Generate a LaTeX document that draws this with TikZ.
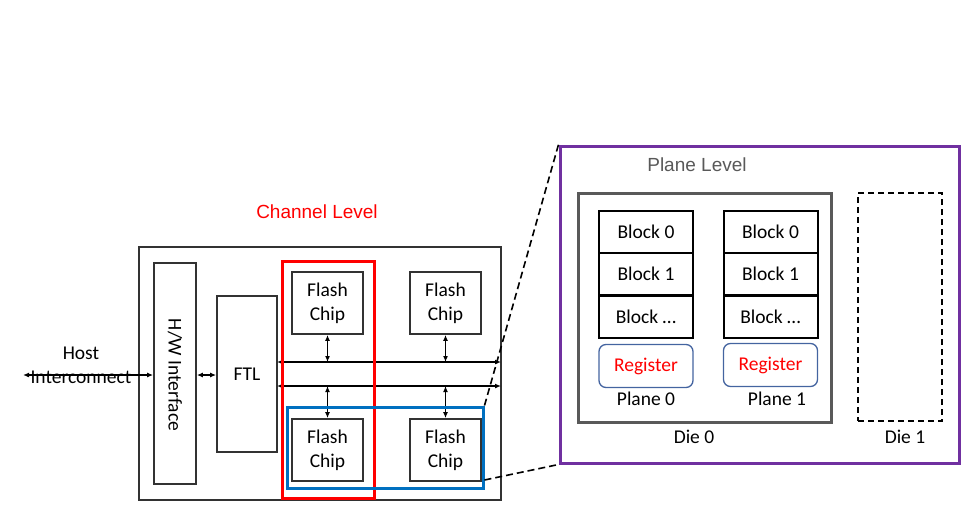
\documentclass[tikz,border=0pt]{standalone}
\usepackage{fontspec}
\setmainfont{Carlito}
\newfontfamily\arialf{Liberation Sans}
\usetikzlibrary{arrows.meta}
\definecolor{dgray}{RGB}{50,50,50}
\definecolor{plgray}{RGB}{89,89,89}
\definecolor{purp}{RGB}{112,48,160}
\definecolor{chblue}{RGB}{0,112,192}
\definecolor{regblue}{RGB}{68,100,160}
\begin{document}
\begin{tikzpicture}[x=1pt,y=-1pt,
  blk/.style={draw=black,line width=2pt,minimum width=94pt,minimum height=42pt,inner sep=0pt,font=\fontsize{19.5}{21}\selectfont},
  chip/.style={draw=dgray,line width=1.8pt,minimum width=71pt,minimum height=62pt,inner sep=0pt,align=center,font=\fontsize{19.5}{24}\selectfont},
  lbl/.style={font=\fontsize{19.5}{21}\selectfont,inner sep=0pt},
  dbl/.style={line width=1.5pt,{Latex[length=6pt,width=5pt]}-{Latex[length=6pt,width=5pt]}}]
\useasboundingbox (0,0) rectangle (975,528);
% channel level
\node[rectangle,draw=dgray,line width=1.6pt,minimum width=362pt,minimum height=253pt,inner sep=0pt] (outer) at (320,373.5) {};
\node[rectangle,draw=dgray,line width=1.8pt,minimum width=42pt,minimum height=221pt,inner sep=0pt] (hw) at (175,373.5) {};
\node[rotate=-90,lbl] (hwt) at (175,375) {H/W Interface};
\node[rectangle,draw=dgray,line width=1.8pt,minimum width=60pt,minimum height=156pt,inner sep=0pt,lbl] (ftl) at (247,374) {FTL};
\node[chip] (c1) at (327.5,303) {Flash\\Chip};
\node[chip] (c2) at (445.5,303) {Flash\\Chip};
\node[chip] (c3) at (327.5,450) {Flash\\Chip};
\node[chip] (c4) at (445.5,450) {Flash\\Chip};
\coordinate (b1l) at (277,362);
\coordinate (b1r) at (501,362);
\coordinate (b2l) at (277,386);
\coordinate (b2r) at (501,386);
\draw[dbl] (b1l) -- (b1r);
\draw[dbl] (b2l) -- (b2r);
\draw[dbl] (c1.south) -- (c1.south |- b1l);
\draw[dbl] (c2.south) -- (c2.south |- b1l);
\draw[dbl] (c3.north) -- (c3.north |- b2l);
\draw[dbl] (c4.north) -- (c4.north |- b2l);
\coordinate (hl) at (23,375);
\draw[dbl] (hl) -- (hw.west |- hl);
\draw[dbl] (hw.east |- hl) -- (ftl.west |- hl);
\node[lbl] (host) at (81,353) {Host};
\node[lbl] (inter) at (81,377) {Interconnect};
\node[rectangle,draw=red,line width=3pt,minimum width=92pt,minimum height=237pt,inner sep=0pt] (red) at (328,379.5) {};
\node[rectangle,draw=chblue,line width=3pt,minimum width=196pt,minimum height=81pt,inner sep=0pt] (blue) at (385,447.5) {};
\node[font=\arialf\fontsize{19}{21}\selectfont,text=red,inner sep=0pt] (chl) at (317,212) {Channel Level};
% plane level
\node[rectangle,draw=purp,line width=3pt,minimum width=399pt,minimum height=317pt,inner sep=0pt] (pl) at (759.5,304.5) {};
\draw[line width=1.6pt,dash pattern=on 7pt off 4pt] (blue.north east) -- (pl.north west);
\draw[line width=1.6pt,dash pattern=on 7pt off 4pt] (blue.east |- 0,480) -- (pl.south west);
\node[font=\arialf\fontsize{19}{21}\selectfont,text=plgray,inner sep=0pt] (plt) at (697,165) {Plane Level};
\node[rectangle,draw=plgray,line width=3pt,minimum width=253pt,minimum height=229pt,inner sep=0pt] (die0) at (704.5,307.5) {};
\node[rectangle,draw=black,line width=1.6pt,dash pattern=on 6pt off 4pt,minimum width=84pt,minimum height=228pt,inner sep=0pt] (die1) at (900,307) {};
\node[blk] (a0) at (646,232) {Block 0};
\node[blk] (a1) at (646,274) {Block 1};
\node[blk] (a2) at (646,317) {Block \dots};
\node[blk] (b0) at (770.5,232) {Block 0};
\node[blk] (b1) at (770.5,274) {Block 1};
\node[blk] (b2) at (770.5,317) {Block \dots};
\node[rectangle,rounded corners=7pt,draw=regblue,line width=1.3pt,minimum width=94pt,minimum height=43pt,inner sep=0pt,text=red,lbl] (r0) at (646,366) {Register};
\node[rectangle,rounded corners=7pt,draw=regblue,line width=1.3pt,minimum width=94pt,minimum height=43pt,inner sep=0pt,text=red,lbl] (r1) at (770.5,365) {Register};
\node[lbl] (p0) at (646,399) {Plane 0};
\node[lbl] (p1) at (777,399) {Plane 1};
\node[lbl] (d0) at (694,437) {Die 0};
\node[lbl] (d1) at (905,437) {Die 1};
\end{tikzpicture}
\end{document}
